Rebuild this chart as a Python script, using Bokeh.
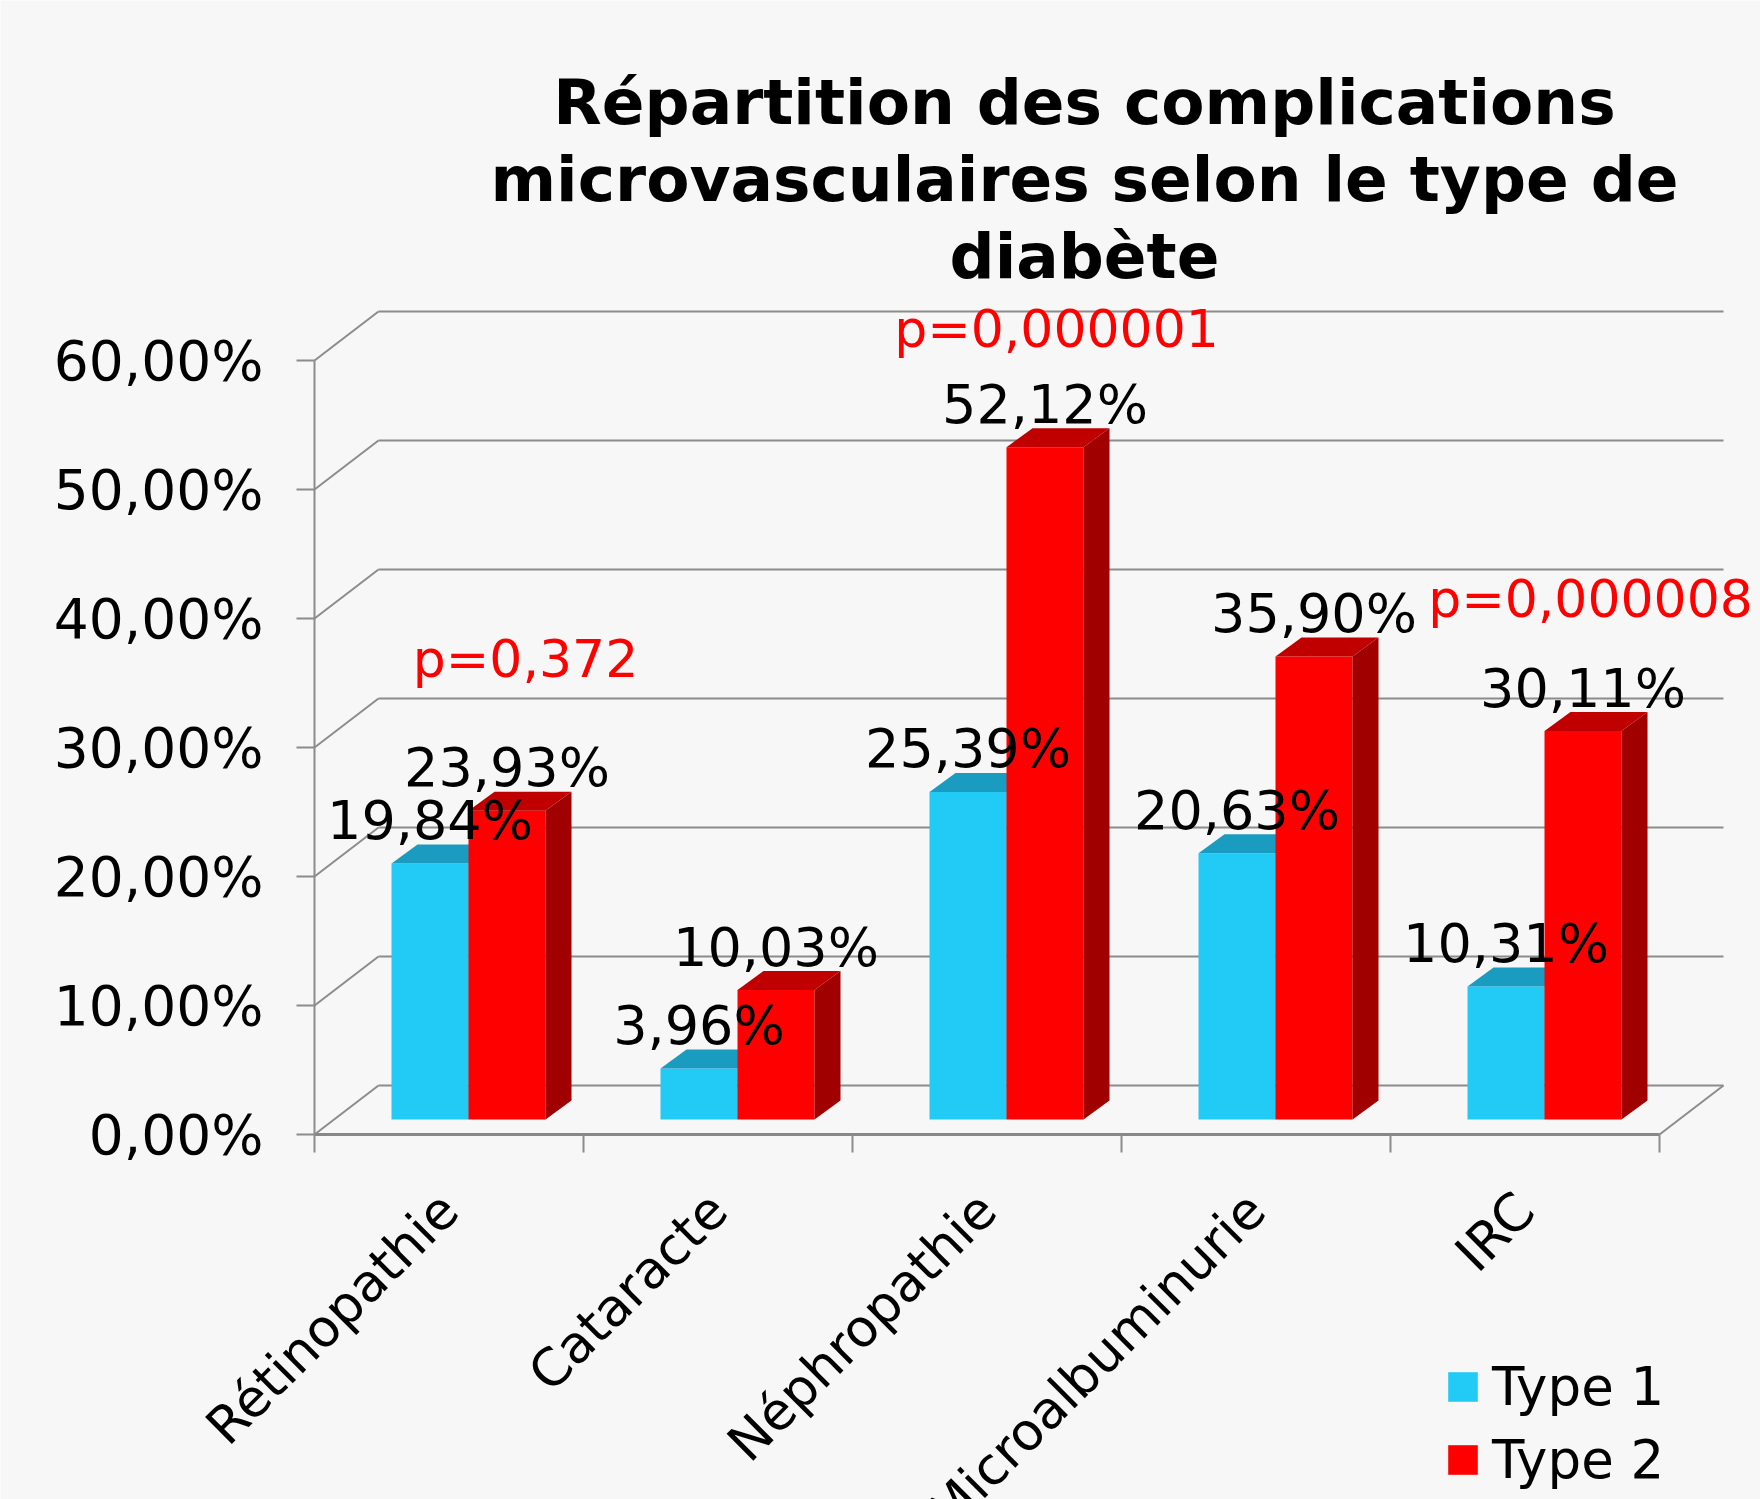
import math
from bokeh.plotting import figure
from bokeh.models import (Range1d, FixedTicker, Legend, LegendItem, LinearAxis)
from bokeh.core.properties import value
from bokeh.embed import file_html
from bokeh.resources import INLINE

# ---------------- data ----------------
categories = ["Rétinopathie", "Cataracte", "Néphropathie", "Microalbuminurie", "IRC"]
type1_values = [19.84, 3.96, 25.39, 20.63, 10.31]
type2_values = [23.93, 10.03, 52.12, 35.90, 30.11]
series_names = ["Type 1", "Type 2"]
p_value_texts = ["p=0,372", "p=0,000001", "p=0,000008"]
y_ticks = [0, 10, 20, 30, 40, 50, 60]
y_tick_labels = ["0,00%", "10,00%", "20,00%", "30,00%", "40,00%", "50,00%", "60,00%"]
title_lines = ["Répartition des complications",
               "microvasculaires selon le type de",
               "diabète"]

# ---------------- layout (pixels) ----------------
W, H = 1760, 1499
X0_PX, Y0_PX = 314, 1134          # canvas pixel of x=0 / y=0
PX_PER_CAT = 269.0
PX_PER_PCT = 12.9
TEXT_FIX = 0.37                   # baseline correction (em)

def px_x(px):
    return (px - X0_PX) / PX_PER_CAT

def px_y(py):
    return (Y0_PX - py) / PX_PER_PCT

FONT = "DejaVu Sans"
GRID = "#8c8c8c"
BG = "#f7f7f7"
BLUE, BLUE_TOP = "#22cbf6", "#1a9cc0"
RED, RED_TOP, RED_SIDE = "#ff0000", "#c00000", "#a00000"

WALL_DX = 64 / PX_PER_CAT
WALL_DY = 49 / PX_PER_PCT
BAR_OFF = 77 / PX_PER_CAT
BAR_W = 77 / PX_PER_CAT
BAR_BASE = 15 / PX_PER_PCT
BAR_DX = 26 / PX_PER_CAT
BAR_DY = 19 / PX_PER_PCT
LABEL_FS = 54
LABEL_GAP = (4 + TEXT_FIX * LABEL_FS) / PX_PER_PCT

n = len(categories)

p = figure(width=W, height=H, output_backend="svg", toolbar_location=None,
           x_range=Range1d(-X0_PX / PX_PER_CAT, (W - X0_PX) / PX_PER_CAT),
           y_range=Range1d(-(H - Y0_PX) / PX_PER_PCT, Y0_PX / PX_PER_PCT),
           x_axis_location=None, y_axis_location=None,
           min_border_left=0, min_border_right=0,
           min_border_top=0, min_border_bottom=0)
p.background_fill_color = BG
p.border_fill_color = BG
p.outline_line_color = None
p.grid.visible = False

# ---------------- walls ----------------
p.segment(x0=[WALL_DX] * len(y_ticks), y0=[t + WALL_DY for t in y_ticks],
          x1=[n + WALL_DX] * len(y_ticks), y1=[t + WALL_DY for t in y_ticks],
          line_color=GRID, line_width=2)
p.segment(x0=[0] * len(y_ticks), y0=y_ticks,
          x1=[WALL_DX] * len(y_ticks), y1=[t + WALL_DY for t in y_ticks],
          line_color=GRID, line_width=2)
p.segment(x0=[n], y0=[0], x1=[n + WALL_DX], y1=[WALL_DY],
          line_color=GRID, line_width=2)

# ---------------- bars ----------------
def bar_faces(lefts, vals):
    rights = [l + BAR_W for l in lefts]
    tops = [BAR_BASE + v for v in vals]
    top_xs = [[l, l + BAR_DX, r + BAR_DX, r] for l, r in zip(lefts, rights)]
    top_ys = [[t, t + BAR_DY, t + BAR_DY, t] for t in tops]
    side_xs = [[r, r + BAR_DX, r + BAR_DX, r] for r in rights]
    side_ys = [[BAR_BASE, BAR_BASE + BAR_DY, t + BAR_DY, t] for t in tops]
    return rights, tops, top_xs, top_ys, side_xs, side_ys

blue_left = [i + BAR_OFF for i in range(n)]
b_r, b_t, b_txs, b_tys, b_sxs, b_sys = bar_faces(blue_left, type1_values)
red_left = b_r
r_r, r_t, r_txs, r_tys, r_sxs, r_sys = bar_faces(red_left, type2_values)

blue_front = p.quad(left=blue_left, right=b_r, bottom=BAR_BASE, top=b_t,
                    fill_color=BLUE, line_color=None)
p.patches(xs=b_sxs, ys=b_sys, fill_color=BLUE_TOP, line_color=None)
p.patches(xs=b_txs, ys=b_tys, fill_color=BLUE_TOP, line_color=None)
red_front = p.quad(left=red_left, right=r_r, bottom=BAR_BASE, top=r_t,
                   fill_color=RED, line_color=None)
p.patches(xs=r_sxs, ys=r_sys, fill_color=RED_SIDE, line_color=None)
p.patches(xs=r_txs, ys=r_tys, fill_color=RED_TOP, line_color=None)

# ---------------- value labels ----------------
def fmt(v):
    return f"{v:.2f}".replace(".", ",") + "%"

for lefts, rights, tops, vals in ((blue_left, b_r, b_t, type1_values),
                                  (red_left, r_r, r_t, type2_values)):
    p.text(x=[(l + r) / 2 for l, r in zip(lefts, rights)],
           y=[t + BAR_DY + LABEL_GAP for t in tops],
           text=[fmt(v) for v in vals],
           text_font=value(FONT), text_font_size=f"{LABEL_FS}px",
           text_color="black", text_align="center", text_baseline="alphabetic")

# ---------------- p-values ----------------
P_FS = 52
P_POS_PX = [(525, 678), (1056, 348), (1590, 618)]
p.text(x=[px_x(a) for a, b in P_POS_PX],
       y=[px_y(b - TEXT_FIX * P_FS) for a, b in P_POS_PX],
       text=p_value_texts, text_font=value(FONT), text_font_size=f"{P_FS}px",
       text_color="#ff0000", text_align="center", text_baseline="alphabetic")

# ---------------- title ----------------
T_FS = 63
TITLE_X_PX = 1084
TITLE_BASE_PX = [125, 202, 279]
p.text(x=[px_x(TITLE_X_PX)] * len(title_lines),
       y=[px_y(b - TEXT_FIX * T_FS) for b in TITLE_BASE_PX], text=title_lines,
       text_font=value(FONT), text_font_size=f"{T_FS}px", text_font_style="bold",
       text_color="black", text_align="center", text_baseline="alphabetic")

# ---------------- y axis ----------------
yax = LinearAxis(fixed_location=0,
                 ticker=FixedTicker(ticks=y_ticks),
                 major_label_overrides={t: lab for t, lab in zip(y_ticks, y_tick_labels)},
                 bounds=(0, 60),
                 axis_line_color=GRID, axis_line_width=2,
                 major_tick_line_color=GRID, major_tick_line_width=2,
                 major_tick_out=18, major_tick_in=0,
                 minor_tick_out=0, minor_tick_in=0,
                 major_label_text_font=FONT, major_label_text_font_size="55px",
                 major_label_text_color="black", major_label_standoff=33)
p.add_layout(yax, "left")

# ---------------- x axis (categories) ----------------
cat_centers = [i + 0.5 for i in range(n)]
xax = LinearAxis(fixed_location=0,
                 ticker=FixedTicker(ticks=cat_centers, minor_ticks=list(range(n + 1))),
                 major_label_overrides={c: lab for c, lab in zip(cat_centers, categories)},
                 major_label_orientation=math.pi / 4,
                 bounds=(0, n),
                 axis_line_color="#888888", axis_line_width=3,
                 major_tick_out=0, major_tick_in=0,
                 minor_tick_out=18, minor_tick_in=0,
                 minor_tick_line_color=GRID, minor_tick_line_width=2,
                 major_label_text_font=FONT, major_label_text_font_size="52px",
                 major_label_text_color="black", major_label_standoff=49)
p.add_layout(xax, "below")

# ---------------- legend ----------------
legend = Legend(items=[LegendItem(label=series_names[0], renderers=[blue_front]),
                       LegendItem(label=series_names[1], renderers=[red_front])],
                location=(1444, 9), orientation="vertical",
                glyph_width=37, glyph_height=37, label_standoff=11,
                label_text_font=FONT, label_text_font_size="53px",
                label_text_color="black", spacing=12, padding=0, margin=0,
                border_line_color=None, background_fill_alpha=0)
p.add_layout(legend)

open("out.html", "w").write(file_html(p, INLINE))
